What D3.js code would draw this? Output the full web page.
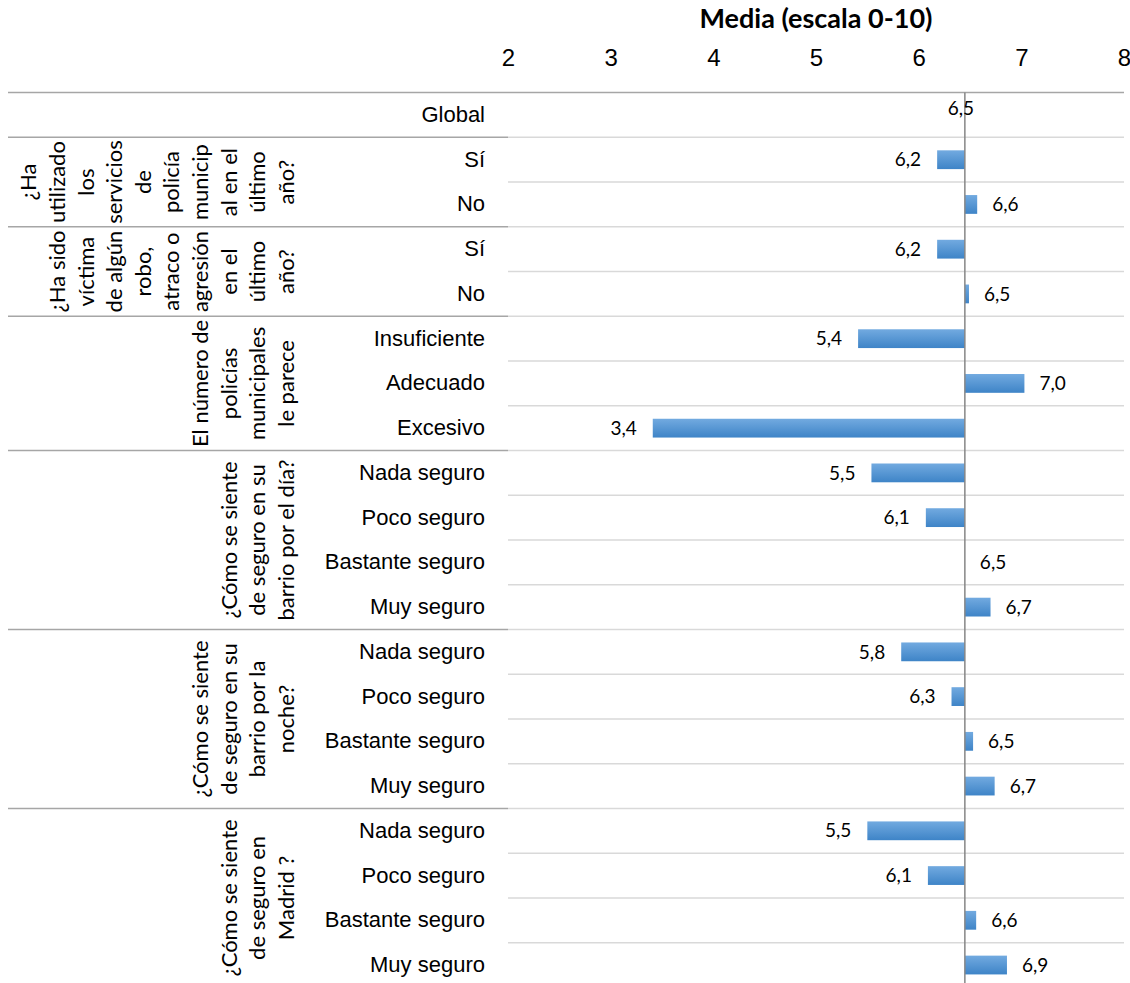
<!DOCTYPE html>
<html>
<head>
<meta charset="utf-8">
<script src="https://cdn.jsdelivr.net/npm/d3@7"></script>
<style>
  body { margin: 0; background: #fff; }
  svg { display: block; font-family: Lato, "Open Sans", sans-serif; }
</style>
</head>
<body>
<svg id="chart" width="1130" height="983"></svg>
<script>
// Media por categoría (escala 0-10), barras desde la media global

const rowLabels = [
  'Global',
  'Sí', 'No',
  'Sí', 'No',
  'Insuficiente', 'Adecuado', 'Excesivo',
  'Nada seguro', 'Poco seguro', 'Bastante seguro', 'Muy seguro',
  'Nada seguro', 'Poco seguro', 'Bastante seguro', 'Muy seguro',
  'Nada seguro', 'Poco seguro', 'Bastante seguro', 'Muy seguro'
];

const values = [
  6.45,
  6.18, 6.57,
  6.18, 6.49,
  5.41, 7.03, 3.41,
  5.54, 6.07, 6.45, 6.70,
  5.83, 6.32, 6.53, 6.74,
  5.50, 6.09, 6.56, 6.86
];

const groupSizes = [1, 2, 2, 3, 4, 4, 4];

const groupLines = [
  [],
  ['¿Ha', 'utilizado', 'los', 'servicios', 'de', 'policía', 'municip', 'al en el', 'último', 'año?'],
  ['¿Ha sido', 'víctima', 'de algún', 'robo,', 'atraco o', 'agresión', 'en el', 'último', 'año?'],
  ['El número de', 'policías', 'municipales', 'le parece'],
  ['¿Cómo se siente', 'de seguro en su', 'barrio por el día?'],
  ['¿Cómo se siente', 'de seguro en su', 'barrio por la', 'noche?'],
  ['¿Cómo se siente', 'de seguro en', 'Madrid ?']
];

const xTicks = [2, 3, 4, 5, 6, 7, 8];
const baseValue = values[0];
const axisTitle = 'Media (escala 0-10)';

const svg = d3.select('#chart');
const plotLeft = 508, plotRight = 1124, plotTop = 92.6, plotBottom = 987.4;

const x = d3.scaleLinear().domain([2, 8]).range([plotLeft, plotRight]);
const y = d3.scaleBand().domain(d3.range(rowLabels.length)).range([plotTop, plotBottom]).padding(0);
const fmt = d => d3.format('.1f')(d).replace('.', ',');

// gradient for bars
const grad = svg.append('defs').append('linearGradient')
  .attr('id', 'barGrad')
  .attr('x1', 0).attr('y1', 0).attr('x2', 0).attr('y2', 1);
grad.append('stop').attr('offset', '0%').attr('stop-color', '#72aae0');
grad.append('stop').attr('offset', '100%').attr('stop-color', '#3e84c7');

// row gridlines in plot area
const bounds = d3.range(rowLabels.length + 1).map(i => plotTop + i * y.step());
svg.append('g')
  .selectAll('line')
  .data(bounds.slice(1))
  .enter()
  .append('line')
  .attr('x1', plotLeft)
  .attr('x2', plotRight)
  .attr('y1', d => d)
  .attr('y2', d => d)
  .style('stroke', '#d9d9d9')
  .style('stroke-width', 1.5);

// group separators in label area
let cum = 0;
const groupStarts = groupSizes.map(n => { const s = cum; cum += n; return s; });
svg.append('g')
  .selectAll('line')
  .data(groupStarts.slice(1).concat([rowLabels.length]))
  .enter()
  .append('line')
  .attr('x1', 8)
  .attr('x2', plotLeft)
  .attr('y1', d => plotTop + d * y.step())
  .attr('y2', d => plotTop + d * y.step())
  .style('stroke', '#a6a6a6')
  .style('stroke-width', 1.5);

svg.append('line')
  .attr('x1', 8).attr('x2', plotRight)
  .attr('y1', plotTop).attr('y2', plotTop)
  .style('stroke', '#a6a6a6')
  .style('stroke-width', 1.5);

// top axis
const xAxis = d3.axisTop(x).tickValues(xTicks).tickSize(0).tickPadding(0).tickFormat(d3.format('d'));
const xg = svg.append('g')
  .attr('transform', 'translate(0,66)')
  .call(xAxis);
xg.select('.domain').remove();
xg.selectAll('text')
  .style('font-size', '24px')
  .style('fill', '#000');

svg.append('text')
  .attr('x', (plotLeft + plotRight) / 2)
  .attr('y', 28)
  .attr('text-anchor', 'middle')
  .style('font-size', '27px')
  .style('font-weight', 'bold')
  .text(axisTitle);

// category labels
const yAxis = d3.axisLeft(y).tickSize(0).tickPadding(23).tickFormat(i => rowLabels[i]);
const yg = svg.append('g')
  .attr('transform', `translate(${plotLeft},0)`)
  .call(yAxis);
yg.select('.domain').remove();
yg.selectAll('text')
  .style('font-size', '22px')
  .style('fill', '#000');

// group labels, rotated, lines stacked from the right
const lineStep = 28.6;
const lastLineX = 286;
groupLines.forEach((lines, gi) => {
  if (!lines.length) return;
  const g0 = groupStarts[gi];
  const cy = plotTop + (g0 + groupSizes[gi] / 2) * y.step();
  const n = lines.length;
  svg.append('g')
    .selectAll('text')
    .data(lines)
    .enter()
    .append('text')
    .attr('transform', (d, i) => `translate(${lastLineX - (n - 1 - i) * lineStep},${cy}) rotate(-90)`)
    .attr('text-anchor', 'middle')
    .attr('dy', '0.35em')
    .style('font-size', '22px')
    .text(d => d);
});

// bars
const barH = y.bandwidth() * 0.42;
svg.append('g')
  .selectAll('rect')
  .data(values)
  .enter()
  .append('rect')
  .attr('x', d => Math.min(x(d), x(baseValue)))
  .attr('y', (d, i) => y(i) + (y.bandwidth() - barH) / 2)
  .attr('width', d => Math.abs(x(d) - x(baseValue)))
  .attr('height', barH)
  .style('fill', 'url(#barGrad)');

// baseline axis
svg.append('line')
  .attr('x1', x(baseValue)).attr('x2', x(baseValue))
  .attr('y1', plotTop).attr('y2', plotBottom)
  .style('stroke', '#868686')
  .style('stroke-width', 1.5);

// value labels
svg.append('g')
  .selectAll('text')
  .data(values)
  .enter()
  .append('text')
  .attr('x', (d, i) => {
    if (i === 0) return x(d) - 4;
    return d < baseValue ? x(d) - 16 : x(d) + 15;
  })
  .attr('y', (d, i) => y(i) + y.bandwidth() / 2 - (i === 0 ? 7 : 0))
  .attr('dy', '0.35em')
  .attr('text-anchor', (d, i) => i === 0 ? 'middle' : (d < baseValue ? 'end' : 'start'))
  .style('font-size', '19px')
  .style('fill', '#000')
  .text(d => fmt(d));
</script>
</body>
</html>
